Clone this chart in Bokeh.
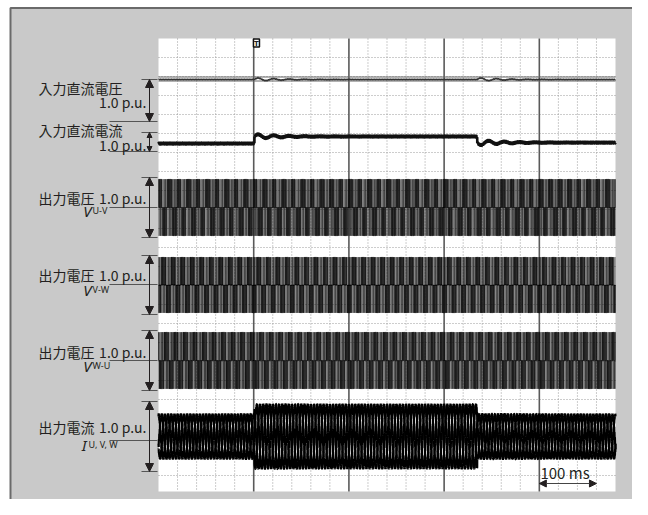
import numpy as np
from bokeh.plotting import figure
from bokeh.models import Range1d, Arrow, NormalHead
from bokeh.core.properties import value
from bokeh.embed import file_html
from bokeh.resources import INLINE

# ---------------- values ----------------
time_span_ms = [0, 800]
event_ms = [168, 558]                      # load on, load off
output_freq_hz = 60
carrier_freq_hz = 420
dc_voltage_pu = [1.0, 1.0, 1.0]            # before / during / after load
dc_current_pu = [0.42, 0.79, 0.47]
dc_voltage_osc_pu = [0.04, 0.04]           # transient swing at each event
dc_current_osc_pu = [0.13, -0.15]
dc_osc_freq_hz = 37
dc_osc_tau_ms = 45
output_voltage_pu = 0.47                   # line-to-line pulse height
persistence_shift_deg = [0, 100, 215]      # overlaid scope acquisitions
persistence_alpha = [0.8, 0.35, 0.35]
output_current_pu = [0.31, 0.45, 0.31]     # phase current peak
current_ripple_pu = 0.045
channel_titles = ["入力直流電圧", "入力直流電流", "出力電圧", "出力電圧", "出力電圧", "出力電流"]
voltage_subs = ["U-V", "V-W", "W-U"]
current_sub = "U, V, W"
pu_label = "1.0 p.u."
time_scale_ms = [666.67, 766.67]
time_scale_label = "100 ms"
minor_div_ms = 800 / 24
major_div_ms = 800 / 4.8

# ---------------- layout (page pixels) ----------------
W, H = 632, 499
OX, OY = 1, 1
SL, SR, ST, SB = 159, 616, 39, 492
FONT = value("Noto Sans CJK JP")
TXT = "#231f20"

p = figure(width=W, height=H, x_range=Range1d(OX, OX + W), y_range=Range1d(OY + H, OY),
           min_border=0, toolbar_location=None, output_backend="svg",
           x_axis_type=None, y_axis_type=None, outline_line_color=None,
           background_fill_color="white", border_fill_color="white")

ms_per_px = (time_span_ms[1] - time_span_ms[0]) / (SR - SL)
p.extra_x_ranges = {"ms": Range1d((OX - SL) * ms_per_px, (OX + W - SL) * ms_per_px)}

def yr(zero, scale):
    return Range1d((zero - (OY + H)) / scale, (zero - OY) / scale)

chan = {
    "dcv": dict(zero=122, scale=42, top=80, bot=122, line=122),
    "dci": dict(zero=152, scale=19, top=133, bot=152, line=152),
    "vuv": dict(zero=208, scale=60, top=178, bot=238, line=208),
    "vvw": dict(zero=285.5, scale=59, top=256, bot=315, line=285),
    "vwu": dict(zero=361, scale=60, top=331, bot=391, line=361),
    "iuvw": dict(zero=437, scale=70, top=402, bot=472, line=441),
}
p.extra_y_ranges = {k: yr(c["zero"], c["scale"]) for k, c in chan.items()}

# outer grey panel and screen
p.quad(left=11, right=645, top=8.5, bottom=600, fill_color="#c9c9c9",
       line_color="#6a6a6a", line_width=2)
p.quad(left=SL, right=SR, top=ST, bottom=SB, fill_color="white", line_color=None)

# grid
minor = [k * minor_div_ms for k in range(1, 24) if k % 5 != 0]
major = [k * major_div_ms for k in range(1, 5)]
p.segment(x0=minor, x1=minor, y0=[ST] * len(minor), y1=[SB] * len(minor),
          x_range_name="ms", line_color="#9a9a9a", line_width=1, line_dash="1 2")
hy = [ST + 19 * k for k in range(1, 24)]
p.segment(x0=[SL] * len(hy), x1=[SR] * len(hy), y0=hy, y1=hy,
          line_color="#9a9a9a", line_width=1, line_dash="1 2")
p.segment(x0=major, x1=major, y0=[ST] * 4, y1=[SB] * 4, x_range_name="ms",
          line_color="#5a5a5a", line_width=1.6)
p.segment(x0=[SL, SL], x1=[SR, SR], y0=[77.5, 81.5], y1=[77.5, 81.5],
          line_color="#666666", line_width=1)

# ---------------- waveforms ----------------
t = np.linspace(time_span_ms[0], time_span_ms[1], 9000)
ts = t / 1000.0
seg = np.searchsorted(event_ms, t, side="right")

def dc_trace(levels, osc):
    y = np.array(levels)[seg].astype(float)
    for e, a in zip(event_ms, osc):
        dt = t - e
        m = dt >= 0
        y[m] += a * np.exp(-dt[m] / dc_osc_tau_ms) * np.sin(2 * np.pi * dc_osc_freq_hz * dt[m] / 1000)
    return y

ripple6 = np.sin(2 * np.pi * 6 * output_freq_hz * ts)
dcv = dc_trace(dc_voltage_pu, dc_voltage_osc_pu) + 0.012 * ripple6
dci = dc_trace(dc_current_pu, dc_current_osc_pu) + 0.045 * ripple6

w = 2 * np.pi * output_freq_hz * ts
ph = [0, -2 * np.pi / 3, 2 * np.pi / 3]

def carrier_wave(f):
    return 2 * np.abs(2 * ((f * ts) % 1.0) - 1) - 1

def line_voltages(shift, car):
    legs = [np.where(0.9 * np.sin(w + a + shift) > car, 0.5, -0.5) for a in ph]
    return [output_voltage_pu * (legs[i] - legs[(i + 1) % 3]) for i in range(3)]

car = carrier_wave(carrier_freq_hz)
acq = [line_voltages(np.deg2rad(s), car) for s in persistence_shift_deg]

ipk = np.array(output_current_pu)[seg]
cur = [ipk * np.sin(w + a - 0.5) + current_ripple_pu * carrier_wave(1500) * np.cos(w + a) for a in ph]

p.line(t, dcv, x_range_name="ms", y_range_name="dcv", line_color="#333333", line_width=1.2)
p.line(t, dci, x_range_name="ms", y_range_name="dci", line_color="#111111", line_width=2.6)
for i, name in enumerate(["vuv", "vvw", "vwu"]):
    for a, al in zip(acq, persistence_alpha):
        p.line(t, a[i], x_range_name="ms", y_range_name=name, line_color="#111111",
               line_width=0.7, line_alpha=al)
for c in cur:
    p.line(t, c, x_range_name="ms", y_range_name="iuvw", line_color="#000000", line_width=2.2)

# ---------------- labels / arrows ----------------
AX = 150
for k, c in chan.items():
    hs = 8 if c["bot"] - c["top"] > 30 else 5
    p.add_layout(Arrow(start=NormalHead(size=hs, fill_color=TXT, line_color=TXT),
                       end=NormalHead(size=hs, fill_color=TXT, line_color=TXT),
                       x_start=AX, y_start=c["top"], x_end=AX, y_end=c["bot"],
                       line_color=TXT, line_width=1))
    ys = [c["top"], c["bot"]]
    p.segment(x0=[142, 142 if c["line"] != c["bot"] else 110], x1=[158, 158], y0=ys, y1=ys,
              line_color="#555555", line_width=1.2)
    if c["line"] != c["bot"]:
        p.segment(x0=[110], x1=[158], y0=[c["line"]], y1=[c["line"]], line_color="#555555", line_width=1.2)

def txt(x, y, s, align="left", size="14px", style="normal", font=FONT, baseline="middle", xr="default"):
    p.text(x=[x], y=[y], text=[s], text_align=align, text_baseline=baseline,
           text_font=font, text_font_size=size, text_font_style=style, text_color=TXT,
           x_range_name=xr)

txt(39, 88, channel_titles[0])
txt(147, 102, pu_label, "right")
txt(39, 130, channel_titles[1])
txt(147, 145, pu_label, "right")
for title, sub, (ty, vy) in zip(channel_titles[2:5], voltage_subs, [(198, 211), (275, 290), (352, 366)]):
    txt(39, ty, title)
    txt(147, ty, pu_label, "right")
    txt(92, vy, "V", "right", "15px", "italic", value("Noto Sans"), "alphabetic")
    txt(93, vy, sub, "left", "9px", "normal", value("Noto Sans"), "alphabetic")
txt(39, 427, channel_titles[5])
txt(147, 427, pu_label, "right")
txt(87, 445, "I", "right", "15px", "italic", value("Noto Sans"), "alphabetic")
txt(89, 445, current_sub, "left", "9px", "normal", value("Noto Sans"), "alphabetic")

# trigger marker
p.rect(x=[event_ms[0] + 3.5], y=[43.5], width=[6 * ms_per_px], height=[8],
       x_range_name="ms", fill_color="white", line_color="#111111", line_width=1.5)
txt(event_ms[0] + 3.5, 44.5, "T", "center", "7px", "bold", value("DejaVu Sans"), xr="ms")

# time scale bar
head = dict(size=7, fill_color=TXT, line_color=TXT)
p.add_layout(Arrow(start=NormalHead(**head), end=NormalHead(**head),
                   x_start=time_scale_ms[0], x_end=time_scale_ms[1], y_start=484, y_end=484,
                   x_range_name="ms", line_color="#444444", line_width=1.2))
txt(sum(time_scale_ms) / 2 - 5, 473, time_scale_label, "center", "15px", xr="ms")

open("out.html", "w").write(file_html(p, INLINE))
